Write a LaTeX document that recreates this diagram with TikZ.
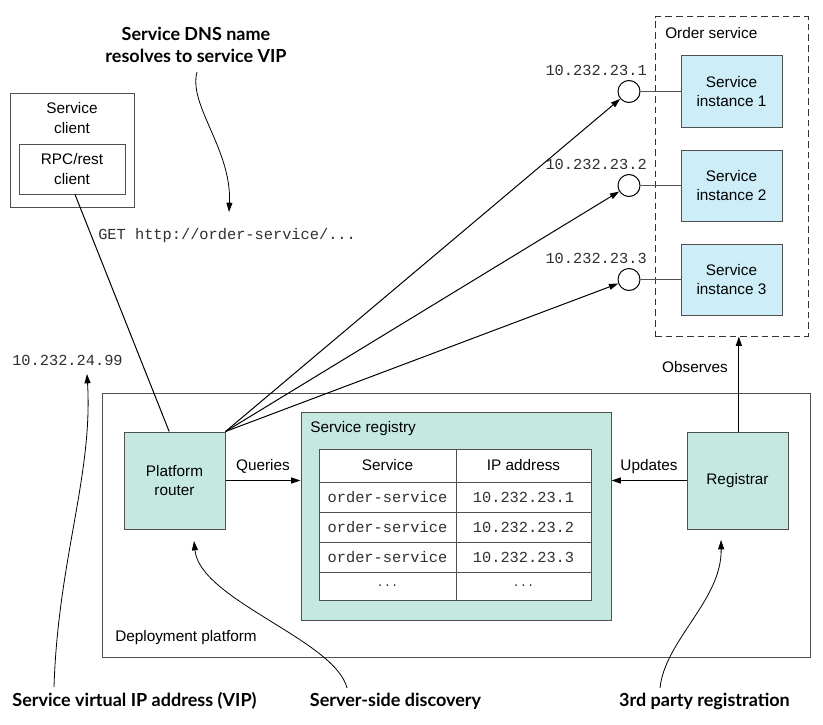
\documentclass[tikz,border=0pt]{standalone}
\usepackage{fontspec}
\setmainfont{Liberation Sans}
\newfontfamily\codefont{Liberation Mono}
\newfontfamily\notefont{Lato}
\usetikzlibrary{arrows.meta,calc}

\definecolor{mintfill}{HTML}{C5E9E0}
\definecolor{bluefill}{HTML}{CDEEF9}
\definecolor{edgegray}{HTML}{505050}
\definecolor{codegray}{HTML}{303030}

\begin{document}
\begin{tikzpicture}[x=0.75pt,y=-0.75pt,
  txt/.style={font=\fontsize{11.5}{14.5}\selectfont, align=center, inner sep=0pt},
  code/.style={font=\codefont\fontsize{11.5}{14}\selectfont, text=codegray, inner sep=0pt},
  note/.style={font=\notefont\bfseries\fontsize{13.5}{16.5}\selectfont, align=center, inner sep=0pt},
  plainbox/.style={draw=edgegray, line width=0.75pt, inner sep=0pt},
  mintbox/.style={plainbox, fill=mintfill, font=\fontsize{11.5}{14.5}\selectfont, align=center},
  bluebox/.style={plainbox, fill=bluefill, font=\fontsize{11.5}{14.5}\selectfont, align=center},
  cell/.style={plainbox, fill=white, minimum height=#1*0.75pt},
  cellA/.style={cell=#1, minimum width=137*0.75pt},
  cellB/.style={cell=#1, minimum width=135*0.75pt},
  port/.style={circle, draw=black, line width=0.75pt, fill=white, minimum size=22*0.75pt, inner sep=0pt},
  link/.style={line width=0.75pt},
  arr/.style={link, -{Triangle[length=7pt,width=4.5pt]}},
  hint/.style={line width=0.6pt, -{Triangle[length=7pt,width=4.5pt]}},
]
\fill[white] (0,0) rectangle (823,724);
\useasboundingbox (0,0) rectangle (823,724);

% ---------- deployment platform ----------
\node[plainbox, minimum width=708*0.75pt, minimum height=264*0.75pt] (platform) at (456,525) {};
\node[txt, anchor=west] (platformlbl) at (115,638) {Deployment platform};

% ---------- service client ----------
\node[plainbox, minimum width=124*0.75pt, minimum height=114*0.75pt] (client) at (72,150) {};
\node[txt] (clientlbl) at (72,118) {Service\\client};
\node[plainbox, minimum width=106*0.75pt, minimum height=50*0.75pt, txt] (rpc) at (72,169) {RPC/rest\\client};

% ---------- router and registrar ----------
\node[mintbox, minimum width=101*0.75pt, minimum height=97*0.75pt] (router) at (174.5,480.5) {Platform\\router};
\node[mintbox, minimum width=101*0.75pt, minimum height=97*0.75pt] (registrar) at (737.5,480.5) {Registrar};

% ---------- service registry ----------
\node[mintbox, minimum width=310*0.75pt, minimum height=208*0.75pt] (registry) at (456,516) {};
\node[txt, anchor=west] (registrylbl) at (310,429) {Service registry};

\node[cellA=33, txt] (h1) at (387.5,465.5) {Service};
\node[cellB=33, txt] (h2) at (523.5,465.5) {IP address};
\node[cellA=30, code] (a1) at (387.5,497) {order-service};
\node[cellB=30, code] (b1) at (523.5,497) {10.232.23.1};
\node[cellA=30, code] (a2) at (387.5,527) {order-service};
\node[cellB=30, code] (b2) at (523.5,527) {10.232.23.2};
\node[cellA=30, code] (a3) at (387.5,557) {order-service};
\node[cellB=30, code] (b3) at (523.5,557) {10.232.23.3};
\node[cellA=28, code, font=\codefont\fontsize{9}{10}\selectfont] (a4) at (387.5,586) {...};
\node[cellB=28, code, font=\codefont\fontsize{9}{10}\selectfont] (b4) at (523.5,586) {...};

% ---------- order service ----------
\node[draw=black!80, line width=0.75pt, dashed, dash pattern=on 5pt off 3pt,
      minimum width=153*0.75pt, minimum height=319*0.75pt, inner sep=0pt] (orders) at (731.5,176.5) {};
\node[txt, anchor=west] (orderslbl) at (665,33) {Order service};

\foreach \i/\y in {1/91.5, 2/185.5, 3/279.5}{
  \node[bluebox, minimum width=101*0.75pt, minimum height=71*0.75pt] (inst\i) at (731.5,\y) {Service\\instance \i};
  \node[port] (ip\i) at (629,\y) {};
  \node[code, anchor=east] (iplbl\i) at (647,\y-21.5) {10.232.23.\i};
  \draw[link, draw=edgegray] (ip\i) -- (inst\i);
}

% ---------- connectors ----------
\draw[link] ([xshift=2.25pt]rpc.south) -- ([xshift=-4pt]router.north);
\foreach \i in {1,2,3}{
  \draw[arr] (router.north east) -- (ip\i);
}
\draw[arr] (router.east) -- (router.east -| registry.west)
  node[txt, midway, above=5pt] (querieslbl) {Queries};
\draw[arr] (registrar.west) -- (registrar.west -| registry.east)
  node[txt, midway, above=5pt] (updateslbl) {Updates};
\draw[arr] ([xshift=1pt]registrar.north) -- ([xshift=1pt]registrar.north |- orders.south);
\node[txt] (observeslbl) at (695,367) {Observes};

% ---------- request and VIP labels ----------
\node[code, anchor=west] (getlbl) at (98,236) {GET http://order-service/...};
\node[code, anchor=west] (viplbl) at (12,360) {10.232.24.99};

% ---------- callouts ----------
\node[note] (dnsnote) at (196,45) {Service DNS name\\resolves to service VIP};
\node[note] (vipnote) at (134.5,701) {Service virtual IP address (VIP)};
\node[note] (ssdnote) at (395.5,701) {Server-side discovery};
\node[note] (regnote) at (704.5,701) {3rd party registration};

\coordinate (dnstip) at (229,212);
\coordinate (viptip) at (87,374);
\coordinate (ssdtip) at (194,541);
\coordinate (regtip) at (721,540);

\draw[hint] (197,72) .. controls (188,105) and (232,150) .. (dnstip);
\draw[hint] (54,687) .. controls (58,560) and (93,475) .. (viptip);
\draw[hint] (347,688) .. controls (335,640) and (200,600) .. (ssdtip);
\draw[hint] (660,688) .. controls (665,640) and (722,600) .. (regtip);
\end{tikzpicture}
\end{document}
